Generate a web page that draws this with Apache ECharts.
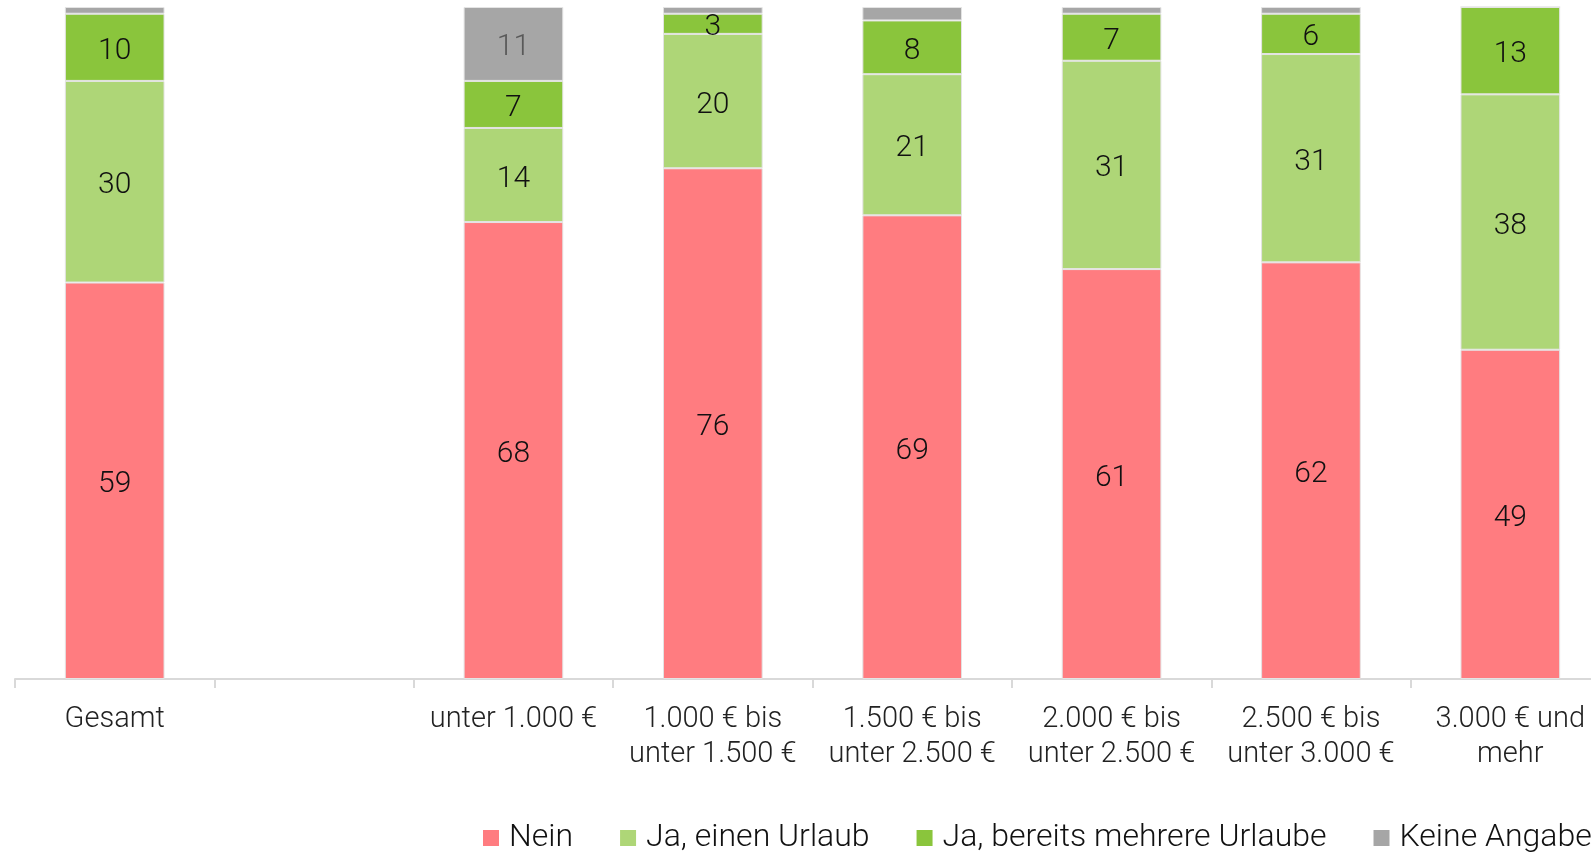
<!DOCTYPE html>
<html>
<head>
<meta charset="utf-8">
<script src="https://cdn.jsdelivr.net/npm/echarts@6/dist/echarts.min.js"></script>
<style>
  html, body { margin: 0; padding: 0; background: #fff; }
  #chart { width: 1591px; height: 852px; }
</style>
</head>
<body>
<div id="chart"></div>
<script>
// Kategorien (zweite Spalte bleibt leer)
var categories = [
  "Gesamt",
  "",
  "unter 1.000 €",
  "1.000 € bis\nunter 1.500 €",
  "1.500 € bis\nunter 2.500 €",
  "2.000 € bis\nunter 2.500 €",
  "2.500 € bis\nunter 3.000 €",
  "3.000 € und\nmehr"
];
var seriesNames = ["Nein", "Ja, einen Urlaub", "Ja, bereits mehrere Urlaube", "Keine Angabe"];
var nein = [59, null, 68, 76, 69, 61, 62, 49];
var einUrlaub = [30, null, 14, 20, 21, 31, 31, 38];
var mehrereUrlaube = [10, null, 7, 3, 8, 7, 6, 13];
var keineAngabe = [1, null, 11, 1, 2, 1, 1, 0];

var colors = ["#FF7C80", "#AED677", "#8AC53C", "#A6A6A6"];
var labelColors = ["#111", "#111", "#111", "#595959"];
var font = "Roboto";

function makeSeries(name, data, i) {
  return {
    name: name,
    type: "bar",
    stack: "total",
    barWidth: "50%",
    data: data,
    itemStyle: {
      color: colors[i],
      borderColor: "#e4e4e4",
      borderWidth: 1
    },
    label: {
      show: true,
      position: "inside",
      offset: [0, 4],
      fontFamily: font,
      fontWeight: 300,
      fontSize: 30,
      color: labelColors[i],
      formatter: function(p) {
        return p.value >= 3 ? p.value : "";
      }
    }
  };
}

var chart = echarts.init(document.getElementById("chart"));
chart.setOption({
  animation: false,
  color: colors,
  // Achse läuft rechts über den Bildrand hinaus
  grid: { left: 15, width: 1595, top: 7, bottom: 173, outerBoundsMode: "none", containLabel: false },
  legend: {
    left: 478,
    width: 1300,
    bottom: -7,
    itemWidth: 16,
    itemHeight: 16,
    itemGap: 47,
    icon: "rect",
    itemStyle: { borderWidth: 0 },
    textStyle: { fontFamily: font, fontWeight: 300, fontSize: 32, color: "#111", padding: [0, 0, 0, 5] },
    data: seriesNames
  },
  xAxis: {
    type: "category",
    data: categories,
    axisLine: { lineStyle: { color: "#d9d9d9", width: 2 } },
    axisTick: { show: true, length: 9, lineStyle: { color: "#d9d9d9", width: 2 } },
    axisLabel: {
      interval: 0,
      margin: 23,
      fontFamily: font,
      fontWeight: 300,
      fontSize: 29,
      lineHeight: 35,
      color: "#222"
    }
  },
  yAxis: {
    type: "value",
    min: 0,
    max: 100,
    show: false
  },
  series: [
    makeSeries(seriesNames[0], nein, 0),
    makeSeries(seriesNames[1], einUrlaub, 1),
    makeSeries(seriesNames[2], mehrereUrlaube, 2),
    makeSeries(seriesNames[3], keineAngabe, 3)
  ]
});
</script>
</body>
</html>
